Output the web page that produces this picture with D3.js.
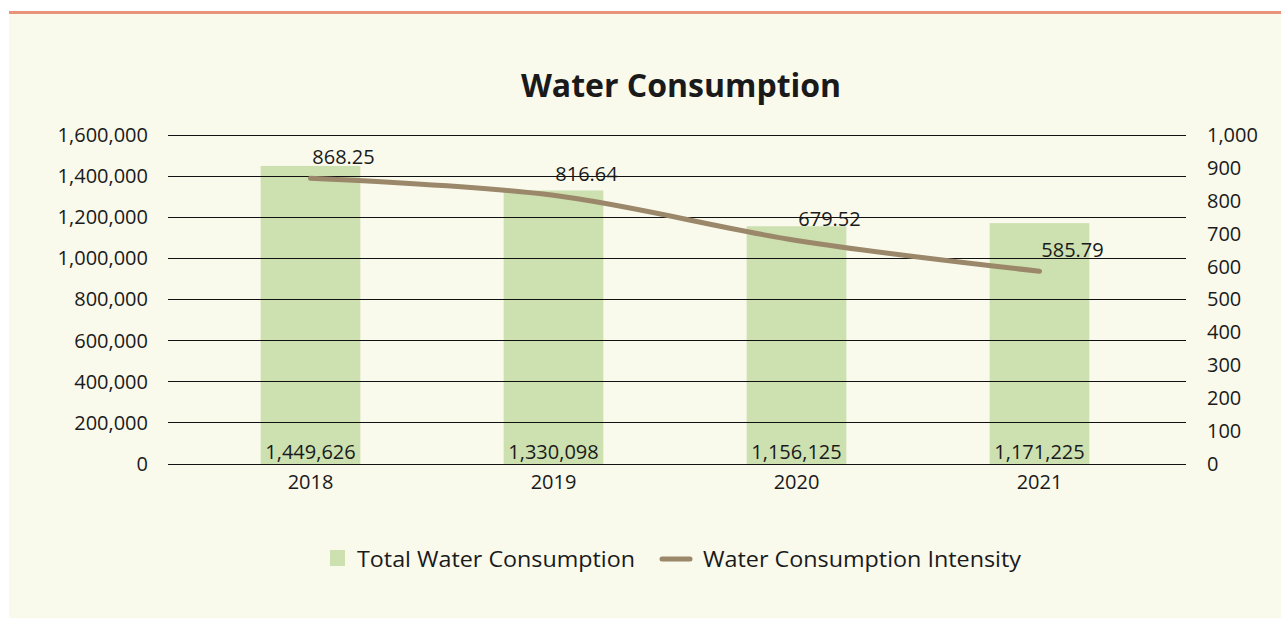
<!DOCTYPE html>
<html><head><meta charset="utf-8">
<script src="https://cdn.jsdelivr.net/npm/d3@7"></script>
<style>
html,body{margin:0;padding:0;background:#fff;}
svg{display:block;}
text{font-family:"Open Sans","Noto Sans",sans-serif;fill:#1a1a1a;}
</style></head>
<body>
<svg id="c" width="1281" height="619"></svg>
<script>
const years = ["2018","2019","2020","2021"];
const totalWater = [1449626, 1330098, 1156125, 1171225];
const intensity = [868.25, 816.64, 679.52, 585.79];
const leftTicks = [0,200000,400000,600000,800000,1000000,1200000,1400000,1600000];
const rightTicks = [0,100,200,300,400,500,600,700,800,900,1000];
const title = "Water Consumption";
const legendLabels = ["Total Water Consumption","Water Consumption Intensity"];

const FS = 20;
const svg = d3.select("#c");
svg.append("rect").attr("x",9).attr("y",13).attr("width",1272).attr("height",605).attr("fill","#f9f9ec");
svg.append("rect").attr("x",9).attr("y",11).attr("width",1272).attr("height",3).attr("fill","#e8937a");

const x = d3.scaleBand().domain(years).range([189,1161]).padding(0);
const yL = d3.scaleLinear().domain([0,1600000]).range([464,135]);
const yR = d3.scaleLinear().domain([0,1000]).range([464,135]);
const fmt = d3.format(",");

// left axis
const gL = svg.append("g").attr("transform","translate(148,0)")
  .call(d3.axisLeft(yL).tickValues(leftTicks).tickFormat(fmt).tickSize(0).tickPadding(0));
gL.select(".domain").remove();
gL.selectAll("text").attr("font-size",FS).attr("font-family","'Open Sans','Noto Sans',sans-serif").attr("fill","#1a1a1a");

// right axis
const gR = svg.append("g").attr("transform","translate(1207,0)")
  .call(d3.axisRight(yR).tickValues(rightTicks).tickFormat(fmt).tickSize(0).tickPadding(0));
gR.select(".domain").remove();
gR.selectAll("text").attr("font-size",FS).attr("font-family","'Open Sans','Noto Sans',sans-serif").attr("fill","#1a1a1a");

// bars
const bw = x.bandwidth()*0.41;
svg.append("g").selectAll("rect").data(years).join("rect")
  .attr("x",d=>x(d)+x.bandwidth()/2-bw/2).attr("width",bw)
  .attr("y",(d,i)=>yL(totalWater[i])).attr("height",(d,i)=>yL(0)-yL(totalWater[i]))
  .attr("fill","#cce0b0");

// gridlines (drawn over bars as in the reference)
svg.append("g").selectAll("line").data(leftTicks).join("line")
  .attr("x1",168).attr("x2",1186).attr("y1",d=>yL(d)).attr("y2",d=>yL(d))
  .attr("stroke","#111").attr("stroke-width",1).attr("shape-rendering","crispEdges");

// x axis labels
const gX = svg.append("g").attr("transform","translate(0,464)")
  .call(d3.axisBottom(x).tickSize(0).tickPadding(11));
gX.select(".domain").remove();
gX.selectAll("text").attr("font-size",FS).attr("font-family","'Open Sans','Noto Sans',sans-serif").attr("fill","#1a1a1a");

// bar value labels
svg.append("g").selectAll("text").data(years).join("text")
  .attr("x",d=>x(d)+x.bandwidth()/2).attr("y",459)
  .attr("text-anchor","middle").attr("font-size",FS)
  .text((d,i)=>fmt(totalWater[i]));

// line
const line = d3.line().x((d,i)=>x(years[i])+x.bandwidth()/2).y(d=>yR(d)).curve(d3.curveCatmullRom.alpha(0));
svg.append("path").datum(intensity).attr("d",line)
  .attr("fill","none").attr("stroke","#9b8769").attr("stroke-width",5).attr("stroke-linecap","round");

// line labels
svg.append("g").selectAll("text").data(intensity).join("text")
  .attr("x",(d,i)=>x(years[i])+x.bandwidth()/2+33).attr("y",d=>yR(d)-14)
  .attr("text-anchor","middle").attr("font-size",FS)
  .text(d=>d3.format(".2f")(d));

// title
svg.append("text").attr("x",681).attr("y",97).attr("text-anchor","middle")
  .attr("font-size",32).attr("font-weight","bold").text(title);

// legend
svg.append("rect").attr("x",330).attr("y",550).attr("width",15).attr("height",16).attr("fill","#cce0b0");
svg.append("text").attr("x",357).attr("y",567).attr("font-size",22).attr("textLength",278).attr("lengthAdjust","spacingAndGlyphs").text(legendLabels[0]);
svg.append("line").attr("x1",662).attr("x2",690).attr("y1",559).attr("y2",559)
  .attr("stroke","#9b8769").attr("stroke-width",5).attr("stroke-linecap","round");
svg.append("text").attr("x",703).attr("y",567).attr("font-size",22).attr("textLength",318).attr("lengthAdjust","spacingAndGlyphs").text(legendLabels[1]);
</script>
</body></html>
